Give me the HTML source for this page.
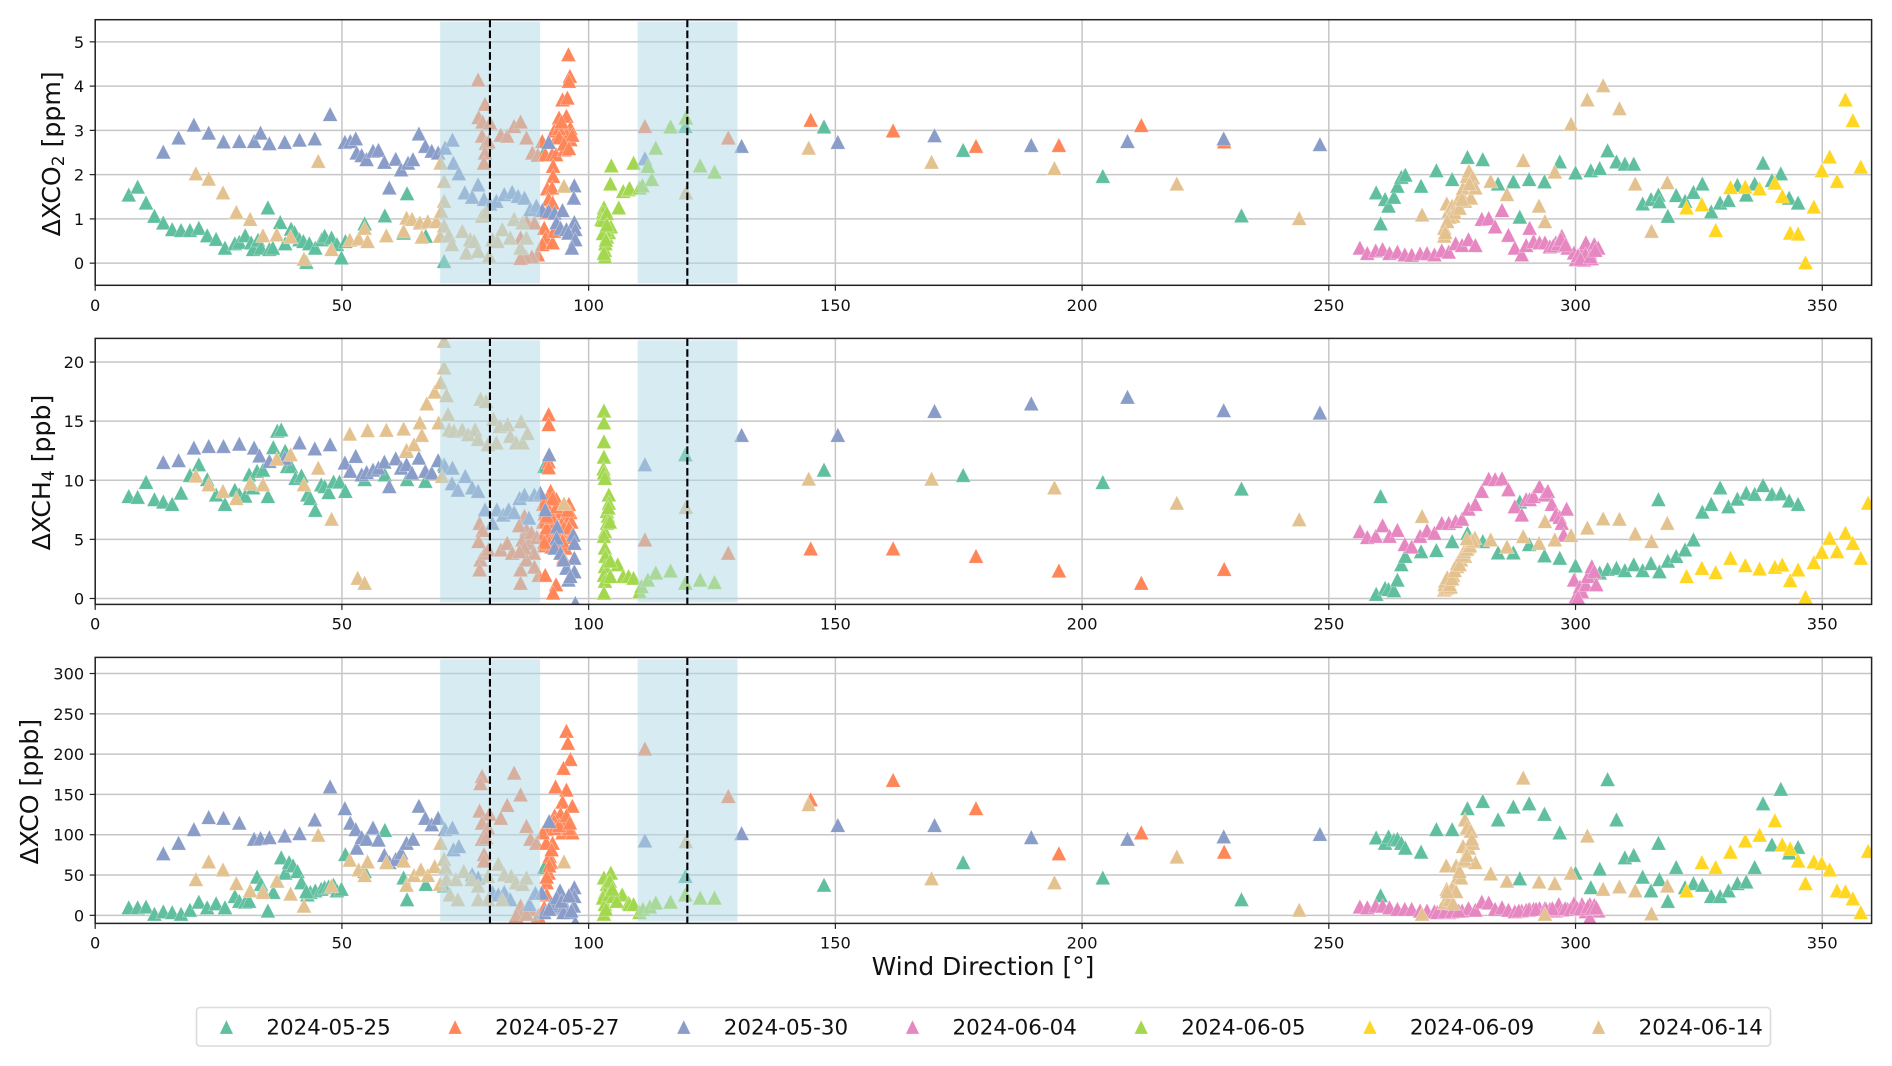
<!DOCTYPE html>
<html lang="en">
<head>
<meta charset="utf-8">
<title>Wind direction scatter</title>
<style>
html,body{margin:0;padding:0;background:#fff}
#fig{display:block;width:1892px;height:1066px;filter:blur(.35px)}
text{font-family:"DejaVu Sans","Liberation Sans",sans-serif;fill:#111}
</style>
</head>
<body>
<svg id="fig" xmlns="http://www.w3.org/2000/svg" width="1892" height="1066" viewBox="0 0 1892 1066"></svg>
<script>
// ---------- categories and tick labels ----------
const dates = ["2024-05-25","2024-05-27","2024-05-30","2024-06-04","2024-06-05","2024-06-09","2024-06-14"];
const dateKeys = ["0525","0527","0530","0604","0605","0609","0614"];
const dateColors = ["#5fbf9e","#fe8659","#8a9dc9","#e687c2","#a3d84e","#ffd622","#e4c290"];
const xTicks = [0,50,100,150,200,250,300,350];
const co2Ticks = [0,1,2,3,4,5];
const ch4Ticks = [0,5,10,15,20];
const coTicks = [0,50,100,150,200,250,300];
const xLimits = [0,360];
const co2Limits = [-0.5,5.5];
const ch4Limits = [-0.5,22];
const coLimits = [-10,320];
const sectorSpans = [[70,90],[110,130]];
const sectorCentres = [80,120];

// ---------- 2024-05-25 ----------
const dir_co2_0525 = [6.8,8.6,10.3,12,13.8,15.6,17.4,19.2,21,22.7,24.5,26.3,28.3,29.2,30.4,31.6,32,33,33.6,35,35.3,36,37.5,38.5,39.7,40.4,41.4,42.2,43.4,44.6,45.9,46.5,47.9,49,49.9,50.7,54.6,58.7,63.2,62.5,67,70.7,42.8,91,119.6,147.7,175.9,204.2,232.3,259.6,260.5,261.4,262.1,263.2,263.9,264.7,265.5,268.7,271.8,275,278.1,281.2,284.3,287.4,288.7,290.6,293.7,296.8,300,303.1,304.9,306.5,308.3,310,311.8,313.6,315.3,316.8,317,318.7,320.4,322.2,323.9,325.7,327.5,329.3,331,332.8,334.6,336.3,338,339.8,341.6,343.3,345.1];
const co2_0525 = [1.55,1.73,1.37,1.07,.92,.77,.75,.75,.8,.63,.55,.35,.45,.48,.63,.47,.32,.53,.35,1.26,.32,.35,.93,.45,.78,.7,.54,.5,.45,.35,.54,.62,.58,.43,.13,.5,.9,1.08,1.58,.69,.62,.05,.03,2.52,3.1,3.09,2.56,1.97,1.08,1.6,.9,1.45,1.3,1.5,1.75,1.95,2,1.75,2.1,1.9,2.4,2.35,1.8,1.85,1.05,1.9,1.85,2.3,2.05,2.1,2.15,2.55,2.3,2.25,2.25,1.35,1.45,1.55,1.4,1.07,1.54,1.41,1.61,1.8,1.17,1.37,1.43,1.77,1.55,1.8,2.27,1.88,2.03,1.48,1.37];
const dir_ch4_0525 = [6.8,8.6,10.3,12,13.8,15.6,17.4,19.2,21,22.7,24.5,26.3,28.3,29.2,30.4,31.2,32,32.8,34,35,36.1,36.9,37.7,38.5,38.9,39.7,40.6,41.8,43,43.6,44.6,45.8,46.5,47.3,48.3,49.5,50.7,54.6,58.7,63,63.2,66.9,70.7,91,119.6,147.7,175.9,204.2,232.3,259.6,260.5,261.4,262.1,263.2,263.9,264.7,265.5,268.7,271.8,275,278.1,281.2,284.3,287.4,288.7,290.6,293.7,296.8,300,303.1,304.9,306.5,308.3,310,311.8,313.6,315.3,316.8,317,318.7,320.4,322.2,323.9,325.7,327.5,329.3,331,332.8,334.6,336.3,338,339.8,341.6,343.3,345.1];
const ch4_0525 = [8.67,8.6,9.86,8.4,8.2,8,8.95,10.45,11.35,10.1,8.8,8,9.2,8.8,8.7,10.5,9.4,10.8,10.9,8.67,12.8,14.2,14.3,12.5,11.2,11.2,10.2,10.4,8.8,8.5,7.5,9.65,9.5,9,9.9,9.9,9.1,10.1,10.5,12.5,10.1,9.95,11.35,11.2,12.2,10.9,10.45,9.85,9.3,.4,8.67,.9,.8,.7,1.6,2.9,3.6,4,4.1,4.85,5.55,4.85,3.9,3.9,8.2,4.6,3.65,3.45,2.8,2,2.2,2.5,2.6,2.4,2.9,2.4,3,8.4,2.3,3.2,3.6,4.15,5,7.35,8,9.4,7.8,8.45,8.95,8.85,9.6,8.85,8.9,8.3,8];
const dir_co_0525 = [6.8,8.6,10.3,12,13.8,15.6,17.4,19.2,21,22.7,24.5,26.3,28.3,29.2,30.4,31.2,32.8,33.6,34,35,36.1,36.9,37.7,38.5,39.3,40.1,41,41.8,43,43.6,44.6,45.8,46.5,47.3,48.3,49,49.9,50.7,54.6,58.7,63.2,62.5,67,70.7,42.8,91,119.6,147.7,175.9,204.2,232.3,259.6,260.5,261.4,262.1,263.2,263.9,264.7,265.5,268.7,271.8,275,278.1,281.2,284.3,287.4,288.7,290.6,293.7,296.8,300,303.1,304.9,306.5,308.3,310,311.8,313.6,315.3,316.8,317,318.7,320.4,322.2,323.9,325.7,327.5,329.3,331,332.8,334.6,336.3,338,339.8,341.6,343.3,345.1];
const co_0525 = [10,10,11,2,5,4,2,7,17,10,15,10,24,18,17,18,48,39,31,6,29,43,72,53,66,62,55,41,26,29,31,33,35,36,38,31,33,76,55,106,20,47,39,37,30,60,49,38,66,47,20,96.7,25,90,98,94,95,90,84,79,107,107,133,142,119,135,46,139,126,103,53,35,58,169,119,72,75,48,31,90,45,18,60,35,40,38,24,24,31,40,42,60,139,88,157,78,85];

// ---------- 2024-05-27 ----------
const dir_co2_0527 = [77.6,79,77.7,78.5,80,78.4,79.2,79.7,79,78.8,82.2,83.5,84.9,86.2,87.4,88.6,89.7,89.7,88.5,87.3,86.2,87.4,89,86.2,90.6,91.2,92.6,93.4,92.8,92.8,91.6,92.6,91.9,92.7,91.5,91,91.3,90.6,92.7,93,94,94.7,95.5,96.3,94.7,95.7,96.2,95.9,96,95.1,96.3,93.5,95.5,96.7,93,94,111.4,128.3,145,161.7,178.5,195.3,212,228.8,94,95,96,94.5];
const co2_0527 = [4.15,3.6,3.3,3.2,3.18,2.88,2.72,2.75,2.5,2.27,2.9,2.88,3.1,3.2,2.84,2.5,2.45,.2,.15,.15,.12,.95,.92,.58,2.76,2.46,2.46,2.46,2.2,1.97,1.69,1.71,1.45,1.37,1.15,.8,.58,.43,.47,.73,3.29,3,3.33,3.06,3.7,3.74,4.23,4.72,4.12,2.57,2.8,2.84,2.91,2.9,3,3.05,3.1,2.84,3.24,3,2.65,2.67,3.12,2.75,2.85,2.7,2.6,3.2];
const dir_ch4_0527 = [77.9,78.5,77.7,78.1,77.9,79,79.7,82.2,83.5,84.5,86.2,87,87.4,86.6,88,88.9,86.2,87.4,89.9,89,85.9,87,88.4,89.5,86,91.9,91.9,91.9,91.9,91.2,93.4,92.8,92.3,93.5,91.5,96,96.3,91.1,92,93,94.5,95.5,90.8,92,93.2,94.5,95.8,96.5,90.8,92,93.5,94.8,96.2,91,92.5,94,95.3,94.9,111.4,128.3,145,161.7,178.5,195.3,212,228.8,91.5,92.5,93.5,94,95,96,96.8,91.5,92.7,92,93.2,94.7,95.8,90.8,91];
const ch4_0527 = [6.4,5.8,4.86,3.3,2.46,3.87,4.15,4.15,4.7,3.87,1.33,7,5.85,5,4.7,3.87,2.46,3.3,2,2.7,6.2,4.3,5.6,5.2,4,15.6,14.75,11.6,11.1,2,1.2,.5,9.1,8.4,8.4,8,7.3,7.2,7.5,7.2,7.4,7,6.5,6.3,6.5,6.3,6.6,6.5,5.5,5.3,5.5,5.4,5.2,4.5,4.4,4.6,4.3,3.5,5,3.87,4.24,4.24,3.6,2.37,1.33,2.5,6,6.9,7.8,5.9,6,6,5.5,7,8.5,4.7,4.9,4.9,7.5,8,4.8];
const dir_co_0527 = [78.4,78.1,84.9,86.2,83.5,77.9,79.9,82.2,78.4,87.4,79.6,88.2,89.4,78.4,79.2,78.8,78.8,87.4,86.2,86.6,88.2,89.8,85.3,87.4,95.5,95.8,96.3,94.9,93.3,95.5,94.7,96.7,93.1,94.3,95.9,91.5,94.7,96.7,92.7,92.1,92.4,91.9,91.5,91.5,91,93,95,96,91.4,90.7,111.4,128.3,145,161.7,178.5,195.3,212,228.8,93,94,95.5,96.2,92.5,92,91.5];
const co_0527 = [173,164,177,150,137,130,126,121,115,111,109,95,90,95,97,76,68,47,12,4,8,0,0,2,229,214,194,183,160,156,141,136,124,126,119,107,103,103,90,74,66,53,41,26,10,117,111,108,90,103,207,148,144,168,133,77,103,79,108,112,124,115,82,62,48];

// ---------- 2024-05-30 ----------
const dir_co2_0530 = [13.8,16.9,20,23,26,29.2,32.2,33.5,35.3,38.4,41.4,44.5,47.6,50.6,51.7,52.8,53,54,55,56.3,57.4,58.6,59.6,60.9,62,63.4,64.4,65.6,66.9,68.2,69.5,70.9,72.4,72.6,73.7,74.9,76.4,77.6,78.8,80,81.3,82.9,84.5,85.7,87,88.2,89.4,90.6,91.9,91.9,93.1,94.7,93.5,94.3,95.5,97.1,97.3,95.9,97.1,97,97.3,96.6,131,150.5,170.1,189.7,209.2,228.7,248.2,111.4];
const co2_0530 = [2.52,2.84,3.13,2.95,2.75,2.76,2.76,2.95,2.71,2.74,2.79,2.82,3.37,2.74,2.76,2.82,2.5,2.44,2.35,2.54,2.56,2.29,1.71,2.36,2.12,2.27,2.35,2.93,2.65,2.54,2.5,2.61,2.79,2.27,2.03,1.6,1.5,1.78,1.45,1.35,1.41,1.56,1.61,1.52,1.48,1.22,1.3,1.2,2.74,1.18,1.14,1.2,.92,.8,.77,.93,.77,.69,1.76,1.48,.54,.35,2.65,2.74,2.89,2.67,2.76,2.82,2.69,2.37];
const dir_ch4_0530 = [13.8,16.9,20,23,26,29.2,32.2,33.3,35.3,38.4,41.4,44.5,47.6,50.6,51.7,52.8,54,55,56.3,57.4,58.6,59.6,60.9,62,63.1,64.2,65.6,66.9,68.2,69.5,70.9,72.4,72.3,73.5,75,76.4,77.6,79,80.5,81.4,82.7,83.8,84.9,86,87,87.9,89,90.2,91.2,92,93.6,93.5,93.1,94.3,95.5,96.9,97.1,97.1,95.9,97.1,96.3,97.3,94.9,131,150.5,170.1,189.7,209.2,228.7,248.2,111.4];
const ch4_0530 = [11.55,11.7,12.77,12.9,12.9,13.1,12.77,12.1,11.64,11.9,13.2,12.7,13.05,11.5,10.8,12.06,10.5,10.7,10.9,11.07,11.58,9.5,11.86,11.07,11.36,10.65,11.92,10.8,10.65,11.7,11.2,11.07,9.75,9.2,10.37,9.4,9.1,7.54,6.4,7.54,7.1,7.54,7.3,8.5,8.8,6.84,8.8,8.95,7.54,12.2,6.1,5.14,4.3,3.87,2.6,5.4,4.7,3.45,1.6,2.3,1.9,-.37,3.3,13.84,13.84,15.87,16.5,17.06,15.93,15.73,11.36];
const dir_co_0530 = [13.8,16.9,20,23,26,29.2,32.2,33.5,35.3,38.4,41.4,44.5,47.6,50.6,51.7,52.8,53,54,55,56.3,57.4,58.6,59.6,60.9,62,63.1,64.4,65.6,66.9,68.2,69.5,70.9,72.4,72.6,73.7,76.4,77.6,80.5,81.7,82.9,84.1,88,89.2,90.5,91,92,93,94.2,93.7,95,95.5,97.1,97.1,97,95.9,97.3,94.9,131,150.5,170.1,189.7,209.2,228.7,248.2,111.4,92.5,93.5,94.5,96,96.5,92];
const co_0530 = [77,90,107,122,121,115,95,96,97,99,102,119,160,133,115,107,84,97,95,109,94,75,66,70,78,90,95,136,121,113,121,107,109,82,86,51,47,29,26,29,20,14,28,28,4,117,10,31,12,12,10,35,24,12,4,-9,4,102,112,112,97,95,98,101,93,15,22,18,25,6,8];

// ---------- 2024-06-04 ----------
const dir_co2_0604 = [256.3,257.8,259.5,260.9,262.3,263.9,265.4,266.8,268.5,269.9,271.4,272.9,274.3,275.7,277,278.3,279.7,281,282.4,283.7,285.1,286.4,287.7,289.1,290,290.7,291.5,292.7,293.8,294.8,296,297.2,298.4,299.7,300.5,301.3,302.1,302.9,303.8,304.6,300.1,301.7,303.3,295.5,296.5,297,298,300.5,302,301,303,304];
const co2_0604 = [.35,.23,.29,.32,.23,.26,.2,.19,.22,.23,.2,.29,.26,.45,.41,.54,.41,1,1.02,.83,1.2,.64,.35,.2,.41,.8,.5,.47,.47,.38,.47,.62,.35,.24,.13,.24,.47,.24,.43,.35,.09,.08,.11,.4,.45,.55,.42,.18,.2,.1,.15,.3];
const dir_ch4_0604 = [256.3,257.8,259.5,260.9,262.3,263.9,265.4,266.8,268.5,269.9,271.4,272.9,274.3,275.7,277,278.3,279.7,281,282.4,283.7,285.1,286.4,287.7,289.1,290,290.7,291.5,292.7,293.8,294.4,295.2,296,296.8,297.2,298.2,297.6,299.7,300.1,300.9,301.3,302.1,302.5,303.3,303.8,304.2,300.5];
const ch4_0604 = [5.7,5.2,5.3,6.2,5.3,5.8,4.6,4.4,5.3,5.76,5.56,6.4,6.4,6.55,6.75,7.6,8,9.1,10.14,10.1,10.17,9.24,7.8,7.1,8.4,8.4,8.67,9.5,8.8,9.1,8,7.1,6.9,6.4,7.6,5.4,1.6,.2,1,.6,1.2,1.9,2.74,2.3,1.2,.1];
const dir_co_0604 = [256.3,257.8,259.5,260.9,262.3,263.9,265.4,266.8,268.5,269.9,271.4,272.9,274.3,275.7,277,278.3,279.7,281,282.4,283.7,285.1,286.4,287.7,289.1,290,290.7,291.5,292.7,293.8,294.8,296,296.6,297.2,298.4,299.7,300.5,301.3,302.1,302.9,303.8,304.6,302.9,288.5,290.5,292,294,295.3,297.9,299,300.2,301,302.5,303.4,304.2,272,273.5,275,276.3];
const co_0604 = [11,10,12,12,10,8,8,8,6,6,5,5,4,6,6,9,7,17,16,8,10,7,5,6,7,8,8,9,9,8,6,14,7,8,15,8,14,5,14,13,6,-3,6,7,8,8,9,9,8,10,9,11,9,10,4,5,5,6];

// ---------- 2024-06-05 ----------
const dir_co2_0605 = [104.6,104.4,103.1,102.9,102.6,106.1,107,108.1,109.1,108.3,110.3,110.9,112.8,112,113.6,116.6,119.7,122.6,125.5,103.3,103.3,103.4,103.7,104.1,104.5,102.9,103.7,103.3,102.9,103.7,103.1,103.5];
const co2_0605 = [2.21,1.8,1.26,1.15,1,1.26,1.63,1.67,2.27,1.7,1.71,1.76,1.9,2.2,2.61,3.09,3.29,2.21,2.07,.15,.3,.45,.6,.7,.83,.98,1.13,.75,.68,.87,.23,.53];
const dir_ch4_0605 = [103.1,103.1,103.1,103.1,103,103.1,103.3,104.1,104.1,103.7,103.9,103.7,103.3,103.1,103.3,103.4,103.3,103.1,103.3,103.1,105.9,107,108.1,109.1,110.3,110.7,112,113.6,116.6,119.6,122.6,125.5,104,104.3,104.4,104.4];
const ch4_0605 = [15.9,14.9,13.3,12,11,10.65,10.2,8.8,8.1,7.4,7,6.4,5.7,5.3,4.3,3.6,2.74,2,1.5,.5,2.9,1.9,1.9,1.75,.6,1.05,1.6,2.2,2.37,1.33,1.6,1.4,7.7,6.5,3.2,1.9];
const dir_co_0605 = [104.5,103.1,103.7,103.3,102.9,103.3,103.1,104.1,106.8,105,105.7,108.1,108.3,109.1,110.3,111,112.4,113.6,116.6,119.6,122.6,125.5,104.3,103.5,104.8];
const co_0605 = [53,47,39,29,22,14,2,26,26,24,18,16,14,14,4,8,11,16,17,26,22,22,43,8,33];

// ---------- 2024-06-09 ----------
const dir_co2_0609 = [322.5,325.6,328.4,331.4,334.4,337.3,340.4,341.9,343.5,345.1,346.6,348.3,349.9,351.5,353,354.7,356.2,357.8];
const co2_0609 = [1.26,1.33,.75,1.72,1.73,1.69,1.82,1.52,.69,.67,.02,1.28,2.1,2.41,1.86,3.7,3.23,2.18];
const dir_ch4_0609 = [322.5,325.6,328.4,331.4,334.4,337.3,340.4,341.9,343.5,345.1,346.6,348.3,349.9,351.5,353,354.7,356.2,357.8,359.3];
const ch4_0609 = [1.9,2.6,2.23,3.45,2.82,2.54,2.68,2.88,1.55,2.46,.14,3.08,3.95,5.14,4,5.56,4.7,3.45,8.1];
const dir_co_0609 = [322.5,325.6,328.4,331.4,334.4,337.3,340.4,341.9,343.5,345.1,346.6,348.3,349.9,351.5,353,354.7,356.2,357.8,359.3];
const co_0609 = [31,66,60,79,93,100,118,88,83,68,40,67,65,57,31,30,21,4,80];

// ---------- 2024-06-14 ----------
const dir_co2_0614 = [20.4,23,25.9,28.6,31.4,34,36.8,39.6,42.3,45.2,47.9,51.6,53.4,54.6,55.2,59,62.5,63.1,64.2,65.8,66.2,67.4,69.1,70,70.7,70.7,70.1,69.9,70.7,71.7,72.3,74.4,75.2,76,76.8,77.6,78.4,79.2,79.8,80.5,81.5,82.5,84.1,84.9,86.2,86.6,87.4,95,119.7,144.6,169.5,194.4,219.2,244,268.9,273.4,273.4,273.9,274.3,275,275.2,276,276.8,277.2,277.6,278,278.4,278.8,279.2,279.7,282.8,286.1,289.4,292.6,293.8,295.8,299.1,302.4,305.6,308.9,312.1,315.4,318.6,274.5,275.5,276.5,277,278.5,274,273.6];
const co2_0614 = [2.03,1.91,1.6,1.16,1,.63,.65,.6,.1,2.31,.32,.53,.56,.8,.5,.63,.73,1.03,1,.92,.6,.95,.95,2.27,1.86,1.41,1.18,.62,.85,.63,.43,.73,.24,.54,.5,.28,1.07,1.15,.17,.54,.5,.77,.58,1,.35,.92,.58,1.75,1.6,2.61,2.29,2.15,1.8,1.02,1.1,.8,.62,1.35,1.18,1.3,1.07,1.37,1.56,1.7,1.41,1.97,2.09,1.48,1.94,1.71,1.86,1.56,2.33,1.3,.95,2.07,3.15,3.7,4.02,3.5,1.8,.73,1.83,1.05,1.15,1.25,1.45,1.8,.95,.7];
const dir_ch4_0614 = [20.4,23,25.9,28.6,31.4,34,36.8,39.6,42.3,45.2,47.9,51.6,53.2,54.6,55.2,59,62.5,63.1,64.6,65.8,66.2,67.2,68.8,70,69.6,70.7,70.7,71.2,71.5,70.3,71.7,72.7,74.4,75.6,77,77.6,78.1,79.2,79.6,81.3,80.7,82,83.6,84.1,85.3,86.3,86.6,87.6,95,119.7,144.6,169.5,194.4,219.2,244,268.9,273.4,273.5,274.3,275.2,276,276.8,277.6,278.3,278.8,279.6,282.8,286.1,289.4,292.6,293.8,295.8,299.1,302.4,305.6,308.9,312.1,315.4,318.6,273.9,274.7,273.6,274,274.5,275,275.5,276,276.5,277,277.4,278,278.6,279.2,278];
const ch4_0614 = [10.4,9.66,9.1,8.5,9.75,9.66,11.84,12.2,9.66,11.07,6.75,13.95,1.75,1.33,14.24,14.27,14.38,12.57,13.05,14.9,13.84,16.5,17.5,18.3,14.9,19.55,21.8,17.2,15.6,10.37,14.3,14.2,14.3,13.9,14.3,13.5,16.9,16.7,13.05,13.2,15.2,14.6,14.75,13.76,13.2,15,13.2,14,8.05,7.75,10.14,10.14,9.4,8.1,6.7,6.98,.76,1.2,1.6,2,2.74,3.3,3.6,4.4,4.86,5.14,5,4.4,5.28,4.7,6.55,5,5.37,6,6.78,6.75,5.5,4.86,6.4,.9,1,1.5,1.8,1.2,1.7,2.4,3,2.9,3.7,4,4.2,4.5,4.9,5.1];
const dir_co_0614 = [20.4,23,25.9,28.6,31.4,34,36.8,39.6,42.3,45.2,47.9,51.6,53.4,54.6,55.2,59,62.5,63.1,64.6,66,67.4,68.8,69.9,70,70.7,71,71.2,71.9,73.1,73.5,74.7,76.3,77.6,77.6,79.6,79.6,81.7,82.5,82.9,84.3,85.3,86.6,87.4,95,119.7,144.6,169.5,194.4,219.2,244,268.9,273.4,273.9,273.8,274.3,275,276.2,275.8,276.8,277.2,277.2,278.4,277.6,278,278.8,279.2,279.7,282.8,286.1,289.4,292.6,293.8,295.8,299.1,302.4,305.6,308.9,312.1,315.4,318.6,274.5,275.2,275.8,276.5,277.5,279,278,274];
const co_0614 = [45,67,57,40,31,29,43,27,12,100,37,69,57,50,67,66,68,38,50,57,50,61,39,90,70,60,45,26,45,20,55,45,37,20,49,20,64,20,51,49,41,39,47,67,92,138,46,41,73,7,2,16,33,62,26,35,49,62,47,68,86,84,119,109,105,90,66,52,43,171,42,2,40,53,99,33,36,31,2.5,37,20,15,30,55,70,95,75,30];

// ---------- layout ----------
const NS = "http://www.w3.org/2000/svg";
const svg = document.getElementById("fig");
const plotLeft = 95.2, plotRight = 1871.6;
const panels = [
  {key:"co2", top:19.7, bottom:285.3, limits:co2Limits, ticks:co2Ticks, labelX:52, labelY:153.8,
   dirs:[dir_co2_0525,dir_co2_0527,dir_co2_0530,dir_co2_0604,dir_co2_0605,dir_co2_0609,dir_co2_0614],
   vals:[co2_0525,co2_0527,co2_0530,co2_0604,co2_0605,co2_0609,co2_0614], tickY:305,
   label:["ΔXCO","2"," [ppm]"]},
  {key:"ch4", top:338.4, bottom:604.4, limits:ch4Limits, ticks:ch4Ticks, labelX:42, labelY:472.5,
   dirs:[dir_ch4_0525,dir_ch4_0527,dir_ch4_0530,dir_ch4_0604,dir_ch4_0605,dir_ch4_0609,dir_ch4_0614],
   vals:[ch4_0525,ch4_0527,ch4_0530,ch4_0604,ch4_0605,ch4_0609,ch4_0614], tickY:623.5,
   label:["ΔXCH","4"," [ppb]"]},
  {key:"co", top:657.4, bottom:923.4, limits:coLimits, ticks:coTicks, labelX:30, labelY:791.7,
   dirs:[dir_co_0525,dir_co_0527,dir_co_0530,dir_co_0604,dir_co_0605,dir_co_0609,dir_co_0614],
   vals:[co_0525,co_0527,co_0530,co_0604,co_0605,co_0609,co_0614], tickY:942.5,
   label:["ΔXCO","",' [ppb]']}
];
const xScale = v => plotLeft + (v - xLimits[0]) / (xLimits[1] - xLimits[0]) * (plotRight - plotLeft);
const yScaleFor = p => v => p.bottom - (v - p.limits[0]) / (p.limits[1] - p.limits[0]) * (p.bottom - p.top);

function node(tag, attrs, parent){
  const el = document.createElementNS(NS, tag);
  for (const k in attrs) el.setAttribute(k, attrs[k]);
  (parent || svg).appendChild(el);
  return el;
}
function trianglePath(cx, cy, w, h){
  return "M" + cx + " " + (cy - h/2) + "L" + (cx + w/2) + " " + (cy + h/2) + "L" + (cx - w/2) + " " + (cy + h/2) + "Z";
}

const defs = node("defs", {});
panels.forEach(p => {
  const clip = node("clipPath", {id:"clip-" + p.key}, defs);
  node("rect", {x:plotLeft, y:p.top, width:plotRight - plotLeft, height:p.bottom - p.top}, clip);
});

panels.forEach(p => {
  const yScale = yScaleFor(p);
  const g = node("g", {});
  
  

  // grid
  const grid = node("g", {stroke:"#c6c6c6", "stroke-width":1.5}, g);
  
  
  xTicks.forEach(t => node("line", {x1:xScale(t), x2:xScale(t), y1:p.top, y2:p.bottom}, grid));
  p.ticks.forEach(t => node("line", {x1:plotLeft, x2:plotRight, y1:yScale(t), y2:yScale(t)}, grid));

  // series
  const plot = node("g", {"clip-path":"url(#clip-" + p.key + ")"}, g);
  dates.forEach((d, i) => {
    const sg = node("g", {fill:dateColors[i], stroke:"#ffffff", "stroke-opacity":0.45, "stroke-width":0.6}, plot);
    
    
    const xs = p.dirs[i], ys = p.vals[i], n = Math.min(xs.length, ys.length);
    for (let j = 0; j < n; j++) {
      const m = node("path", {d:trianglePath(xScale(xs[j]), yScale(ys[j]), 15, 14.5)}, sg);
      
      
    }
  });

  // sector shading above the points
  sectorSpans.forEach((s, i) => {
    const r = node("rect", {x:xScale(s[0]) - 0.4, width:xScale(s[1]) - xScale(s[0]) + 1.2, y:p.top + 2, height:p.bottom - p.top - 4, fill:"#add8e6", "fill-opacity":0.5}, g);
    
    
  });
  sectorCentres.forEach((c, i) => {
    const l = node("line", {x1:xScale(c), x2:xScale(c), y1:p.top, y2:p.bottom, stroke:"#000", "stroke-width":2.1, "stroke-dasharray":"7.6 3.2"}, g);
    
    
  });

  // spines
  const frame = node("rect", {x:plotLeft, y:p.top, width:plotRight - plotLeft, height:p.bottom - p.top, fill:"none", stroke:"#222", "stroke-width":1.5}, g);
  
  

  // x ticks
  xTicks.forEach(t => {
    node("line", {x1:xScale(t), x2:xScale(t), y1:p.bottom, y2:p.bottom + 5.5, stroke:"#222", "stroke-width":1.2}, g);
    const tx = node("text", {x:xScale(t), y:p.tickY + 6, "text-anchor":"middle", "font-size":16.2}, g);
    
    
    tx.textContent = t;
  });
  // y ticks
  p.ticks.forEach(t => {
    node("line", {x1:plotLeft - 5.5, x2:plotLeft, y1:yScale(t), y2:yScale(t), stroke:"#222", "stroke-width":1.2}, g);
    const ty = node("text", {x:plotLeft - 11, y:yScale(t) + 6, "text-anchor":"end", "font-size":16.2}, g);
    
    
    ty.textContent = t;
  });
  // y label
  const yl = node("text", {transform:"translate(" + (p.labelX + 8) + " " + p.labelY + ") rotate(-90)", "text-anchor":"middle", "font-size":25.2}, g);
  
  
  const t1 = node("tspan", {}, yl); t1.textContent = p.label[0];
  if (p.label[1]) {
    const t2 = node("tspan", {"font-size":17, dy:4}, yl); t2.textContent = p.label[1];
    const t3 = node("tspan", {dy:-4}, yl); t3.textContent = p.label[2];
  } else {
    const t3 = node("tspan", {}, yl); t3.textContent = p.label[2];
  }
});

// x axis title
const xTitle = node("text", {x:983, y:975, "text-anchor":"middle", "font-size":24.9});


xTitle.textContent = "Wind Direction [°]";

// legend
const legend = node("g", {});


node("rect", {x:196.5, y:1007.5, width:1574, height:38.5, rx:3.5, fill:"#fff", stroke:"#dcdcdc", "stroke-width":1.6}, legend);
dates.forEach((d, i) => {
  const cx = 226.4 + i * 228.7;
  const e = node("g", {}, legend);
  
  
  node("path", {d:trianglePath(cx, 1027, 13.6, 14), fill:dateColors[i], stroke:"#fff", "stroke-opacity":0.45, "stroke-width":0.6}, e);
  const lt = node("text", {x:cx + 40, y:1034.5, "font-size":21.4}, e);
  lt.textContent = d;
});
</script>
</body>
</html>
